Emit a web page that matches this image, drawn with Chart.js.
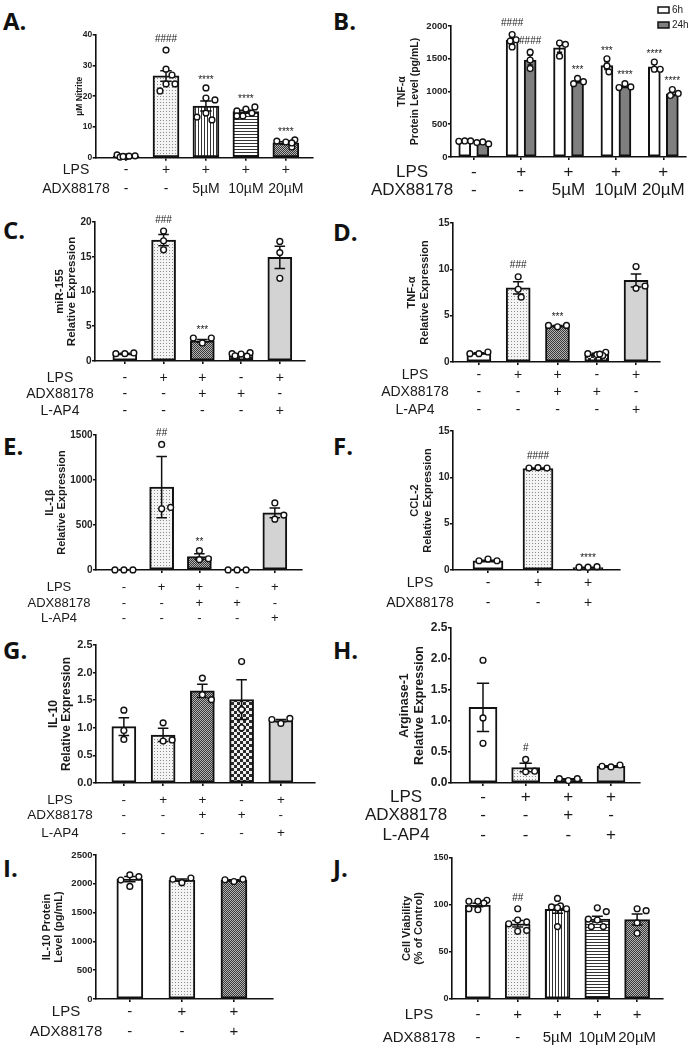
<!DOCTYPE html>
<html>
<head>
<meta charset="utf-8">
<title>ADX88178 panels</title>
<script src="https://cdn.jsdelivr.net/npm/chart.js@4.4.1/dist/chart.umd.min.js"></script>
<style>
  html, body { margin: 0; padding: 0; background: #fff; }
  body { position: relative; width: 691px; height: 1050px; overflow: hidden; }
  canvas { position: absolute; }
  .tag { position: absolute; font: bold 24px 'Open Sans', sans-serif; line-height: 24px; color: #111; }
</style>
</head>
<body>
<div class="tag" style="left:3px;top:9px">A.</div>
<div class="tag" style="left:333px;top:9px">B.</div>
<div class="tag" style="left:3px;top:218px">C.</div>
<div class="tag" style="left:333px;top:220px">D.</div>
<div class="tag" style="left:3px;top:434px">E.</div>
<div class="tag" style="left:333px;top:434px">F.</div>
<div class="tag" style="left:3px;top:638px">G.</div>
<div class="tag" style="left:333px;top:638px">H.</div>
<div class="tag" style="left:3px;top:856px">I.</div>
<div class="tag" style="left:333px;top:856px">J.</div>
<script>
var FONT = "'Liberation Sans', Arial, Helvetica, sans-serif";
var INK = '#111';

// treatment rows under the x axis
var doseLps = ['-', '+', '+', '+', '+'];
var doseAdx = ['-', '-', '5µM', '10µM', '20µM'];
var mixLps = ['-', '+', '+', '-', '+'];
var mixAdx = ['-', '-', '+', '+', '-'];
var mixLap = ['-', '-', '-', '-', '+'];
var pairLps = ['-', '+', '+'];
var pairAdx = ['-', '-', '+'];
var argLps = ['-', '+', '+', '+'];
var argAdx = ['-', '-', '+', '-'];
var argLap = ['-', '-', '-', '+'];

// A. nitrite
var aTicks = ['0', '10', '20', '30', '40'];
var aMeans = [0.5, 26.6, 16.8, 15.0, 4.8];
var aSem = [0.15, 1.7, 1.6, 0.45, 0.4];
var aPoints = [[0.3, 0.6, 0.9, 0.2, 0.5, 0.4], [35.0, 28.8, 26.9, 24.0, 24.0, 21.7],
  [22.7, 19.4, 18.8, 14.5, 12.3, 13.2], [15.8, 16.5, 15.2, 14.5, 13.6, 13.6], [5.1, 5.8, 5.4, 3.5, 4.8]];
var aSig = ['', '####', '****', '****', '****'];

// B. TNF-a protein, 6h and 24h
var bTicks = ['0', '500', '1000', '1500', '2000'];
var b6Means = [240, 1780, 1665, 1395, 1375];
var b6Sem = [5, 45, 65, 60, 40];
var b6Points = [[245, 245, 240], [1870, 1790, 1770, 1680], [1740, 1720, 1540], [1500, 1390, 1300], [1450, 1340, 1340]];
var b6Sig = ['', '####', '', '***', '****'];
var b24Means = [215, 1480, 1160, 1080, 965];
var b24Sem = [10, 75, 25, 20, 30];
var b24Points = [[230, 200, 220], [1600, 1480, 1350], [1200, 1150, 1120], [1120, 1070, 1060], [1030, 970, 940]];
var b24Sig = ['', '####', '***', '****', '****'];

// C. miR-155
var cTicks = ['0', '5', '10', '15', '20'];
var cMeans = [1.05, 17.4, 2.9, 0.95, 14.9];
var cSem = [0.05, 0.8, 0.2, 0.1, 1.6];
var cPoints = [[1.06, 1.16, 1.06], [18.7, 17.3, 16.0], [2.6, 3.3, 3.3], [1.0, 1.2, 1.05, 0.7, 0.75], [17.2, 15.6, 11.9]];
var cSig = ['', '###', '***', '', ''];

// D. TNF-a mRNA
var dTicks = ['0', '5', '10', '15'];
var dMeans = [0.95, 8.0, 3.9, 0.85, 8.8];
var dSem = [0.05, 0.65, 0.05, 0.1, 0.7];
var dPoints = [[0.9, 1.08, 0.9], [9.2, 7.85, 7.0], [3.8, 3.95, 3.95], [0.8, 1.05, 0.9, 0.7, 0.85], [10.3, 7.95, 8.2]];
var dSig = ['', '###', '***', '', ''];

// E. IL-1b
var eTicks = ['0', '500', '1000', '1500'];
var eMeans = [1, 920, 150, 1, 635];
var eSem = [0.5, 340, 30, 0.5, 55];
var ePoints = [[1, 1, 1], [1395, 680, 695], [215, 115, 125], [1, 1, 1], [745, 565, 610]];
var eSig = ['', '##', '**', '', ''];

// F. CCL-2
var fTicks = ['0', '5', '10', '15'];
var fMeans = [1.0, 10.95, 0.25];
var fSem = [0.05, 0.05, 0.04];
var fPoints = [[1.18, 1.0, 1.0], [11.05, 11.0, 11.0], [0.3, 0.36, 0.3]];
var fSig = ['', '####', '****'];

// G. IL-10 mRNA
var gTicks = ['0.0', '0.5', '1.0', '1.5', '2.0', '2.5'];
var gMeans = [1.02, 0.87, 1.67, 1.51, 1.13];
var gSem = [0.16, 0.12, 0.12, 0.36, 0.02];
var gPoints = [[1.32, 0.95, 0.79], [1.09, 0.76, 0.78], [1.9, 1.6, 1.51], [2.2, 1.33, 1.0], [1.08, 1.17, 1.15]];

// H. Arginase-1
var hTicks = ['0.0', '0.5', '1.0', '1.5', '2.0', '2.5'];
var hMeans = [1.22, 0.25, 0.06, 0.27];
var hSem = [0.39, 0.07, 0.01, 0.01];
var hPoints = [[1.98, 1.05, 0.64], [0.38, 0.18, 0.19], [0.04, 0.07, 0.07], [0.26, 0.29, 0.27]];
var hSig = ['', '#', '', ''];

// I. IL-10 protein
var iTicks = ['0', '500', '1000', '1500', '2000', '2500'];
var iMeans = [2080, 2065, 2062];
var iSem = [45, 20, 10];
var iPoints = [[2155, 2125, 2065, 1955], [2020, 2100, 2080], [2040, 2080, 2070]];

// J. cell viability
var jTicks = ['0', '50', '100', '150'];
var jMeans = [100, 80, 95.5, 85, 84.5];
var jSem = [1.8, 3.5, 4.2, 3, 5.8];
var jPoints = [[104, 105, 104, 102, 95, 96], [96, 84, 82, 80, 72, 73], [107, 99, 98, 96, 97, 77],
  [97, 93, 84, 85, 77, 77], [96, 94, 81, 70]];
var jSig = ['', '##', '', '', ''];

function tile(w, h, paint) {
  var c = document.createElement('canvas');
  c.width = w; c.height = h;
  var g = c.getContext('2d');
  paint(g);
  return g.createPattern(c, 'repeat');
}

var FILLS = {
  white: '#ffffff',
  gray: '#d3d3d3',
  dark: '#7f7f7f',
  dots: tile(3, 3, function (g) {
    g.fillStyle = '#f4f4f4'; g.fillRect(0, 0, 3, 3);
    g.fillStyle = '#8c8c8c'; g.fillRect(1, 1, 1, 1);
  }),
  vlines: tile(3, 3, function (g) {
    g.fillStyle = '#fff'; g.fillRect(0, 0, 3, 3);
    g.fillStyle = '#333'; g.fillRect(0, 0, 1, 3);
  }),
  hlines: tile(3, 3, function (g) {
    g.fillStyle = '#fff'; g.fillRect(0, 0, 3, 3);
    g.fillStyle = '#333'; g.fillRect(0, 0, 3, 1);
  }),
  dense: tile(2, 2, function (g) {
    g.fillStyle = '#b4b4b4'; g.fillRect(0, 0, 2, 2);
    g.fillStyle = '#383838'; g.fillRect(0, 0, 1, 1); g.fillRect(1, 1, 1, 1);
  }),
  checker: tile(6, 6, function (g) {
    g.fillStyle = '#f0f0f0'; g.fillRect(0, 0, 6, 6);
    g.fillStyle = '#2a2a2a'; g.fillRect(0, 0, 3, 3); g.fillRect(3, 3, 3, 3);
  })
};

var fiveMix = ['white', 'dots', 'dense', 'checker', 'gray'];
var fiveDose = ['white', 'dots', 'vlines', 'hlines', 'dense'];

var panels = [
  { col: 0, area: [95.7, 34.7, 313, 157.7], xmin: -0.76, xmax: 4.68, barW: 26, ticks: aTicks, tickSize: 8.5,
    title: ['µM Nitrite'], titleX: [80], titleFont: 8.5,
    rows: [['LPS', doseLps], ['ADX88178', doseAdx]], rowDy: [12.5, 31], nameX: 76, rowFont: 14,
    series: [{ means: aMeans, sem: aSem, points: aPoints, sig: aSig, shift: 0, fills: fiveDose }] },
  { col: 345, area: [451, 26, 690, 157], xmin: -0.48, xmax: 4.47, barW: 12, ticks: bTicks, tickSize: 9.5,
    title: ['TNF-α', 'Protein Level (pg/mL)'], titleX: [402, 415], titleFont: 10.5, swarm: [2, 6, 6],
    rows: [['LPS', doseLps], ['ADX88178', doseAdx]], rowDy: [15, 33], nameX: 412, rowFont: 17,
    legend: { x: 658, y: [10, 25] },
    series: [
      { label: '6h', means: b6Means, sem: b6Sem, points: b6Points, sig: b6Sig, shift: -0.19, fills: ['white', 'white', 'white', 'white', 'white'] },
      { label: '24h', means: b24Means, sem: b24Sem, points: b24Points, sig: b24Sig, shift: 0.19, fills: ['dark', 'dark', 'dark', 'dark', 'dark'] }
    ] },
  { col: 0, area: [95, 222, 305, 361], xmin: -0.77, xmax: 4.65, barW: 24, ticks: cTicks, tickSize: 10,
    title: ['miR-155', 'Relative Expression'], titleX: [60, 72], titleFont: 11.5,
    rows: [['LPS', mixLps], ['ADX88178', mixAdx], ['L-AP4', mixLap]], rowDy: [17, 33, 50], nameX: 60, rowFont: 14,
    series: [{ means: cMeans, sem: cSem, points: cPoints, sig: cSig, shift: 0, fills: fiveMix }] },
  { col: 345, area: [453, 223, 660, 362], xmin: -0.66, xmax: 4.61, barW: 24, ticks: dTicks, tickSize: 10,
    title: ['TNF-α', 'Relative Expression'], titleX: [412, 425], titleFont: 11,
    rows: [['LPS', mixLps], ['ADX88178', mixAdx], ['L-AP4', mixLap]], rowDy: [13, 30, 48], nameX: 415, rowFont: 14,
    series: [{ means: dMeans, sem: dSem, points: dPoints, sig: dSig, shift: 0, fills: fiveMix }] },
  { col: 0, area: [96, 435, 302, 570], xmin: -0.74, xmax: 4.72, barW: 24, ticks: eTicks, tickSize: 10,
    title: ['IL-1β', 'Relative Expression'], titleX: [50, 62], titleFont: 11,
    rows: [['LPS', mixLps], ['ADX88178', mixAdx], ['L-AP4', mixLap]], rowDy: [17, 33, 48], nameX: 59, rowFont: 13,
    series: [{ means: eMeans, sem: eSem, points: ePoints, sig: eSig, shift: 0, fills: fiveMix }] },
  { col: 345, area: [453, 431, 620, 570], xmin: -0.7, xmax: 2.64, barW: 30, ticks: fTicks, tickSize: 10,
    title: ['CCL-2', 'Relative Expression'], titleX: [415, 428], titleFont: 11,
    rows: [['LPS', pairLps], ['ADX88178', pairAdx]], rowDy: [13, 33], nameX: 420, rowFont: 14,
    series: [{ means: fMeans, sem: fSem, points: fPoints, sig: fSig, shift: 0, fills: ['white', 'dots', 'dense'] }] },
  { col: 0, area: [96, 645, 315, 783], xmin: -0.71, xmax: 4.87, barW: 24, ticks: gTicks, tickSize: 11,
    title: ['IL-10', 'Relative Expression'], titleX: [54, 67], titleFont: 12,
    rows: [['LPS', mixLps], ['ADX88178', mixAdx], ['L-AP4', mixLap]], rowDy: [17, 32, 50], nameX: 60, rowFont: 13.5,
    series: [{ means: gMeans, sem: gSem, points: gPoints, sig: ['', '', '', '', ''], shift: 0, fills: fiveMix }] },
  { col: 345, area: [451, 628, 640, 783], xmin: -0.75, xmax: 3.68, barW: 28, ticks: hTicks, tickSize: 12,
    title: ['Arginase-1', 'Relative Expression'], titleX: [405, 420], titleFont: 12.5,
    rows: [['LPS', argLps], ['ADX88178', argAdx], ['L-AP4', argLap]], rowDy: [14, 32, 52], nameX: 406, rowFont: 17,
    series: [{ means: hMeans, sem: hSem, points: hPoints, sig: hSig, shift: 0, fills: ['white', 'dots', 'dense', 'gray'] }] },
  { col: 0, area: [96, 855, 273, 999], xmin: -0.65, xmax: 2.75, barW: 26, ticks: iTicks, tickSize: 9.5,
    title: ['IL-10 Protein', 'Level (pg/mL)'], titleX: [47, 59], titleFont: 11,
    rows: [['LPS', pairLps], ['ADX88178', pairAdx]], rowDy: [13, 33], nameX: 66, rowFont: 15,
    series: [{ means: iMeans, sem: iSem, points: iPoints, sig: ['', '', ''], shift: 0, fills: ['white', 'dots', 'dense'] }] },
  { col: 345, area: [452, 858, 663, 999], xmin: -0.65, xmax: 4.65, barW: 25, ticks: jTicks, tickSize: 9,
    title: ['Cell Viability', '(% of Control)'], titleX: [407, 419], titleFont: 11,
    rows: [['LPS', doseLps], ['ADX88178', doseAdx]], rowDy: [16, 39], nameX: 419, rowFont: 15,
    series: [{ means: jMeans, sem: jSem, points: jPoints, sig: jSig, shift: 0, fills: fiveDose }] }
];

// spread points sideways where they would overlap, but keep them over the bar
function swarm(groups, shift, pxX, pxY, step, minD, cap) {
  var out = [];
  groups.forEach(function (vals, i) {
    var placed = [];
    vals.forEach(function (v) {
      var py = v * pxY, best = 0, bestD = -1;
      for (var k = 0; k < 60; k++) {
        var c = (k % 2 ? 1 : -1) * Math.ceil(k / 2) * step;
        if (Math.abs(c) > cap) break;
        var d = placed.reduce(function (m, q) {
          var a = c - q[0], b = py - q[1];
          return Math.min(m, Math.sqrt(a * a + b * b));
        }, Infinity);
        if (d >= minD) { best = c; break; }
        if (d > bestD) { bestD = d; best = c; }
      }
      placed.push([best, py]);
      out.push({ x: i + shift + best / pxX, y: v });
    });
  });
  return out;
}

function decor(p, cy) {
  return {
    id: 'decor',
    afterDatasetDraw: function (chart, args) {
      if (args.meta.type !== 'bar') return;
      var s = p.series[args.index];
      var ys = chart.scales.y, ctx = chart.ctx;
      var w = p.barW * 0.22;
      ctx.save();
      ctx.strokeStyle = INK;
      ctx.lineWidth = 1.5;
      args.meta.data.forEach(function (bar, i) {
        var hi = ys.getPixelForValue(s.means[i] + s.sem[i]);
        var lo = ys.getPixelForValue(Math.max(0, s.means[i] - s.sem[i]));
        ctx.beginPath();
        ctx.moveTo(bar.x, hi); ctx.lineTo(bar.x, lo);
        ctx.moveTo(bar.x - w, hi); ctx.lineTo(bar.x + w, hi);
        ctx.moveTo(bar.x - w, lo); ctx.lineTo(bar.x + w, lo);
        ctx.stroke();
      });
      ctx.restore();
    },
    afterDraw: function (chart) {
      var ctx = chart.ctx, xs = chart.scales.x, ys = chart.scales.y, area = chart.chartArea;
      ctx.save();
      ctx.fillStyle = '#1a1a1a';
      ctx.textAlign = 'center';
      ctx.textBaseline = 'middle';

      // significance marks above the highest point of each bar
      ctx.font = '10px ' + FONT;
      p.series.forEach(function (s, si) {
        var bars = chart.getDatasetMeta(si).data;
        s.sig.forEach(function (mark, i) {
          if (!mark) return;
          var top = Math.max(s.means[i] + s.sem[i], Math.max.apply(null, s.points[i]));
          var y = ys.getPixelForValue(top) - 11 + (mark.charAt(0) === '*' ? 3 : 0);
          ctx.fillText(mark, bars[i].x, y);
        });
      });

      // rotated y title
      ctx.font = 'bold ' + p.titleFont + 'px ' + FONT;
      var midY = (area.top + area.bottom) / 2;
      p.title.forEach(function (line, j) {
        ctx.save();
        ctx.translate(p.titleX[j] - p.col, midY);
        ctx.rotate(-Math.PI / 2);
        ctx.fillText(line, 0, 0);
        ctx.restore();
      });

      // treatment table
      ctx.font = p.rowFont + 'px ' + FONT;
      p.rows.forEach(function (row, j) {
        var y = area.bottom + p.rowDy[j];
        ctx.fillText(row[0], p.nameX - p.col, y);
        row[1].forEach(function (v, i) { ctx.fillText(v, xs.getPixelForValue(i), y); });
      });

      // legend (panel B only)
      if (p.legend) {
        ctx.font = '10px ' + FONT;
        ctx.textAlign = 'left';
        p.series.forEach(function (s, j) {
          var lx = p.legend.x - p.col, ly = p.legend.y[j] - cy;
          ctx.fillStyle = FILLS[s.fills[0]];
          ctx.fillRect(lx, ly - 3, 11, 6);
          ctx.strokeStyle = INK;
          ctx.lineWidth = 1.5;
          ctx.strokeRect(lx, ly - 3, 11, 6);
          ctx.fillStyle = '#1a1a1a';
          ctx.fillText(s.label, lx + 14, ly);
        });
      }
      ctx.restore();
    }
  };
}

function axisParts() {
  return {
    border: { display: true, color: INK, width: 1.6 },
    grid: { display: true, drawOnChartArea: false, drawTicks: true, tickLength: 3, color: INK, lineWidth: 1.6, offset: false }
  };
}

function buildPanel(p) {
  var cw = p.col ? 346 : 345;
  var cy = Math.max(0, Math.round(p.area[1] - 30));
  var ch = Math.round(p.area[3] - cy + 62);
  var cv = document.createElement('canvas');
  cv.width = cw;
  cv.height = ch;
  cv.style.left = p.col + 'px';
  cv.style.top = cy + 'px';
  document.body.appendChild(cv);

  var L = p.area[0] - p.col, T = p.area[1] - cy, R = p.area[2] - p.col, B = p.area[3] - cy;
  var yMax = parseFloat(p.ticks[p.ticks.length - 1]);
  var pxY = (B - T) / yMax, pxX = (R - L) / (p.xmax - p.xmin);
  var sw = p.swarm || [3, 8, p.barW * 0.42];

  var datasets = [];
  p.series.forEach(function (s) {
    datasets.push({
      type: 'bar', label: s.label || '', order: 2, grouped: false, barThickness: p.barW,
      data: s.means.map(function (m, i) { return { x: i + s.shift, y: m }; }),
      backgroundColor: s.fills.map(function (f) { return FILLS[f]; }),
      borderColor: INK, borderWidth: 2, borderSkipped: false
    });
  });
  p.series.forEach(function (s) {
    datasets.push({
      type: 'scatter', order: 1, clip: false,
      data: swarm(s.points, s.shift, pxX, pxY, sw[0], sw[1], sw[2]),
      pointRadius: 2.9, pointBorderWidth: 1.4,
      pointBackgroundColor: '#fff', pointBorderColor: INK
    });
  });

  var xa = axisParts(), ya = axisParts();
  new Chart(cv, {
    type: 'bar',
    data: { datasets: datasets },
    options: {
      responsive: false,
      animation: false,
      events: [],
      devicePixelRatio: 1,
      layout: { padding: { left: L - 40, top: T, right: cw - R, bottom: ch - B - 6 } },
      plugins: { legend: { display: false }, tooltip: { enabled: false } },
      scales: {
        x: {
          type: 'linear', min: p.xmin, max: p.xmax, offset: false,
          border: xa.border, grid: xa.grid,
          afterBuildTicks: function (sc) {
            sc.ticks = p.series[0].means.map(function (m, i) { return { value: i }; });
          },
          afterFit: function (sc) { sc.height = 6; },
          ticks: { autoSkip: false, padding: 0, callback: function () { return ''; } }
        },
        y: {
          type: 'linear', min: 0, max: yMax,
          border: ya.border, grid: ya.grid,
          afterBuildTicks: function (sc) {
            sc.ticks = p.ticks.map(function (t) { return { value: parseFloat(t) }; });
          },
          afterFit: function (sc) { sc.width = 40; },
          ticks: {
            autoSkip: false, padding: 0.5, color: '#222',
            font: { family: FONT, size: p.tickSize, weight: 'bold' },
            callback: function (v, i) { return p.ticks[i]; }
          }
        }
      }
    },
    plugins: [decor(p, cy)]
  });
}

panels.forEach(buildPanel);
</script>
</body>
</html>
